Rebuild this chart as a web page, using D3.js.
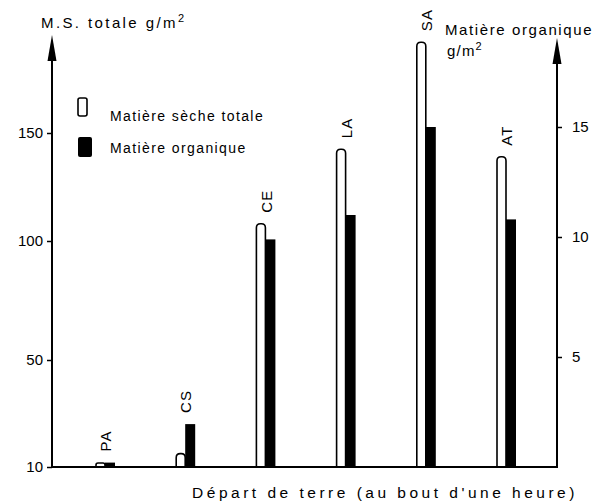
<!DOCTYPE html>
<html>
  <head>
    <meta charset="utf-8" />
    <title> Matière sèche </title>
    <script src="https://d3js.org/d3.v7.min.js"></script>
    <style>
      body { margin: 0; background: white; }
      text { font-family: "Liberation Sans", Arial, sans-serif; fill: black; }
    </style>
  </head>

  <body>
    <svg id="chart" width=613 height=504></svg>

    <script>

    var sites = ["PA", "CS", "CE", "LA", "SA", "AT"];
    var matiereSeche = [11.5, 15, 108, 142.5, 192, 139];
    var matiereOrganique = [0.2, 1.95, 9.9, 11, 15, 10.8];

    var leftTicks = [10, 50, 100, 150];
    var rightTicks = [5, 10, 15];

    var svg = d3.select("#chart");

    // the scan axes are hand drawn, so the tick spacing is not even
    var yLeft = d3.scaleLinear()
      .domain([10, 50, 100, 150])
      .range([467, 360, 241, 133]);

    var yRight = d3.scaleLinear()
      .domain([0, 5, 10, 15])
      .range([467, 357, 237, 127]);

    var x = d3.scalePoint()
      .domain(sites)
      .range([105, 506]);

    var data = sites.map(function(s, i) {
      return { site: s, ms: matiereSeche[i], mo: matiereOrganique[i] };
    });

    var base = 467;

    // white bars with rounded top
    function roundTop(x0, w, top, bottom) {
      var r = Math.min(w / 2, 4, (bottom - top) / 2);
      return "M" + x0 + "," + bottom +
        "V" + (top + r) +
        "Q" + x0 + "," + top + " " + (x0 + r) + "," + top +
        "H" + (x0 + w - r) +
        "Q" + (x0 + w) + "," + top + " " + (x0 + w) + "," + (top + r) +
        "V" + bottom;
    }

    svg.selectAll(".ms").data(data).enter().append("path")
      .attr("class", "ms")
      .attr("d", function(d) { return roundTop(x(d.site) - 9, 9, yLeft(d.ms), base); })
      .attr("fill", "white")
      .attr("stroke", "black")
      .attr("stroke-width", 1.6);

    svg.selectAll(".mo").data(data).enter().append("rect")
      .attr("class", "mo")
      .attr("x", function(d) { return x(d.site); })
      .attr("y", function(d) { return yRight(d.mo); })
      .attr("width", 10)
      .attr("height", function(d) { return base - yRight(d.mo); })
      .attr("fill", "black");

    // site labels, rotated
    svg.selectAll(".site").data(data).enter().append("text")
      .attr("class", "site")
      .attr("transform", function(d) {
        var top = Math.min(yLeft(d.ms), yRight(d.mo));
        return "translate(" + (x(d.site) + 1) + "," + (top - 11) + ") rotate(-90)";
      })
      .attr("dy", "0.35em")
      .attr("font-size", 15)
      .attr("letter-spacing", 1.2)
      .text(function(d) { return d.site; });

    // axes
    var leftAxis = d3.axisLeft(yLeft).tickValues(leftTicks).tickSize(5).tickPadding(4);
    var rightAxis = d3.axisRight(yRight).tickValues(rightTicks).tickSize(5).tickPadding(10);

    var gl = svg.append("g").attr("transform", "translate(52,0)").call(leftAxis);
    var gr = svg.append("g").attr("transform", "translate(557,0)").call(rightAxis);

    [gl, gr].forEach(function(g) {
      g.select(".domain").remove();
      g.selectAll(".tick line").attr("stroke", "black").attr("stroke-width", 1.5);
      g.selectAll(".tick text")
        .attr("font-size", 15)
        .attr("font-family", "Liberation Sans, Arial, sans-serif")
        .attr("fill", "black");
    });

    svg.append("line")
      .attr("x1", 52).attr("x2", 52).attr("y1", 50).attr("y2", base + 1)
      .attr("stroke", "black").attr("stroke-width", 2);
    svg.append("line")
      .attr("x1", 557).attr("x2", 557).attr("y1", 52).attr("y2", base + 1)
      .attr("stroke", "black").attr("stroke-width", 2);
    svg.append("line")
      .attr("x1", 51).attr("x2", 558).attr("y1", base).attr("y2", base)
      .attr("stroke", "black").attr("stroke-width", 2.2);

    function arrow(cx, tip) {
      svg.append("path")
        .attr("d", "M" + cx + "," + tip + "L" + (cx + 4.5) + "," + (tip + 26) + "L" + (cx - 4.5) + "," + (tip + 26) + "Z")
        .attr("fill", "black");
    }
    arrow(52, 35);
    arrow(557, 38);

    // titles
    var t1 = svg.append("text").attr("x", 41).attr("y", 28)
      .attr("font-size", 15).attr("letter-spacing", 2.4);
    t1.append("tspan").text("M.S. totale g/m");
    t1.append("tspan").attr("dy", -6).attr("font-size", 11).text("2");

    svg.append("text").attr("x", 445).attr("y", 35)
      .attr("font-size", 15).attr("letter-spacing", 1.6)
      .text("Matière organique");
    var t2 = svg.append("text").attr("x", 447).attr("y", 56)
      .attr("font-size", 15).attr("letter-spacing", 1.2);
    t2.append("tspan").text("g/m");
    t2.append("tspan").attr("dy", -6).attr("font-size", 11).text("2");

    svg.append("text").attr("x", 385).attr("y", 498)
      .attr("text-anchor", "middle")
      .attr("font-size", 15.5).attr("letter-spacing", 3.5)
      .text("Départ de terre (au bout d'une heure)");

    // legend
    svg.append("rect").attr("x", 78).attr("y", 98).attr("width", 9).attr("height", 18)
      .attr("rx", 2).attr("fill", "white").attr("stroke", "black").attr("stroke-width", 1.6);
    svg.append("rect").attr("x", 78).attr("y", 137).attr("width", 14).attr("height", 20)
      .attr("rx", 2).attr("fill", "black");
    svg.append("text").attr("x", 110).attr("y", 121)
      .attr("font-size", 14).attr("letter-spacing", 1.4)
      .text("Matière sèche totale");
    svg.append("text").attr("x", 110).attr("y", 153)
      .attr("font-size", 14).attr("letter-spacing", 1.4)
      .text("Matière organique");

    </script>

  </body>

</html>
